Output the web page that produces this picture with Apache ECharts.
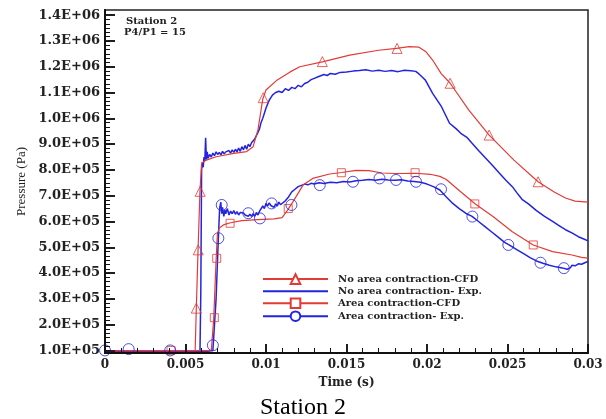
<!DOCTYPE html>
<html><head><meta charset="utf-8">
<script src="https://cdn.jsdelivr.net/npm/echarts@6/dist/echarts.min.js"></script>
<style>html,body{margin:0;padding:0;background:#fff}#wrap{position:relative;width:606px;height:419px}#c,#t{position:absolute;left:0;top:0;width:606px;height:419px}#t{pointer-events:none}</style>
</head><body><div id="wrap"><div id="c"></div><div id="t"></div></div>
<script>
// ---------- DATA (time in s, pressure in Pa) ----------
const seriesNames = ['No area contraction-CFD', 'No area contraction- Exp.', 'Area contraction-CFD', 'Area contraction- Exp.'];

const xTickLabels = ['0', '0.005', '0.01', '0.015', '0.02', '0.025', '0.03'];
const yTickValues = [1e5, 2e5, 3e5, 4e5, 5e5, 6e5, 7e5, 8e5, 9e5, 1e6, 1.1e6, 1.2e6, 1.3e6, 1.4e6];
const yTickLabels = ['1.0E+05', '2.0E+05', '3.0E+05', '4.0E+05', '5.0E+05', '6.0E+05', '7.0E+05', '8.0E+05', '9.0E+05', '1.0E+06', '1.1E+06', '1.2E+06', '1.3E+06', '1.4E+06'];

const noAreaCFD = [
  [0, 0.99e5], [0.0056, 0.99e5], [0.00567, 2.6e5], [0.00578, 4.9e5], [0.0059, 7.2e5], [0.006, 8.26e5],
  [0.0063, 8.38e5], [0.0069, 8.51e5], [0.008, 8.64e5], [0.0088, 8.71e5], [0.0092, 8.9e5], [0.0095, 9.55e5],
  [0.0098, 1.075e6], [0.01, 1.11e6], [0.0107, 1.149e6], [0.0115, 1.18e6], [0.0121, 1.2e6], [0.0135, 1.219e6],
  [0.0152, 1.245e6], [0.017, 1.264e6], [0.0181, 1.271e6], [0.0189, 1.278e6], [0.0195, 1.276e6], [0.01994, 1.258e6],
  [0.02035, 1.226e6], [0.02087, 1.174e6], [0.02144, 1.136e6], [0.0226, 1.032e6], [0.02386, 0.935e6], [0.0254, 0.838e6],
  [0.0269, 0.754e6], [0.0279, 0.714e6], [0.0286, 0.691e6], [0.0292, 0.679e6], [0.03, 0.675e6]
];
const noAreaExp = [
  [0, 0.97e5], [0.0003, 0.96e5], [0.0006, 0.98e5], [0.0009, 0.95e5], [0.0012, 0.97e5], [0.0015, 0.98e5], [0.0018, 0.96e5],
  [0.0021, 0.97e5], [0.0024, 0.95e5], [0.0027, 0.98e5], [0.003, 0.96e5], [0.0033, 0.97e5], [0.0036, 0.95e5], [0.0039, 0.98e5],
  [0.0042, 0.96e5], [0.0045, 0.97e5], [0.0048, 0.95e5], [0.0051, 0.97e5], [0.0054, 0.96e5], [0.0057, 0.97e5], [0.0059, 0.97e5],
  [0.00595, 3.2e5], [0.006, 8.0e5], [0.00605, 8.3e5], [0.0061, 8.1e5], [0.00615, 8.5e5], [0.0062, 8.35e5], [0.00625, 9.25e5],
  [0.0063, 8.4e5], [0.00635, 8.7e5], [0.0064, 8.45e5], [0.0065, 8.6e5], [0.0066, 8.5e5], [0.0067, 8.65e5], [0.0068, 8.55e5],
  [0.0069, 8.7e5], [0.007, 8.6e5], [0.0071, 8.68e5], [0.0072, 8.58e5], [0.0073, 8.72e5], [0.0074, 8.62e5], [0.0075, 8.7e5],
  [0.0076, 8.63e5], [0.0077, 8.75e5], [0.0078, 8.65e5], [0.0079, 8.78e5], [0.008, 8.68e5], [0.0081, 8.8e5], [0.0082, 8.7e5],
  [0.0083, 8.85e5], [0.0084, 8.72e5], [0.0085, 8.9e5], [0.0086, 8.78e5], [0.0087, 8.95e5], [0.0088, 8.8e5], [0.0089, 9.0e5],
  [0.009, 8.9e5], [0.0091, 9.05e5], [0.0092, 9.0e5], [0.0093, 9.2e5], [0.0094, 9.15e5], [0.0095, 9.45e5], [0.0096, 9.6e5],
  [0.0097, 9.85e5], [0.0098, 1.0e6], [0.0099, 1.02e6], [0.01, 1.04e6], [0.0101, 1.055e6], [0.0102, 1.07e6], [0.0103, 1.08e6],
  [0.0104, 1.09e6], [0.0105, 1.085e6], [0.0106, 1.1e6], [0.0107, 1.095e6], [0.0108, 1.105e6], [0.011, 1.1e6], [0.0112, 1.115e6],
  [0.0114, 1.108e6], [0.0116, 1.12e6], [0.0118, 1.115e6], [0.012, 1.128e6], [0.0122, 1.122e6], [0.0124, 1.135e6], [0.0126, 1.14e6],
  [0.0128, 1.15e6], [0.013, 1.155e6], [0.0132, 1.16e6], [0.0134, 1.165e6], [0.0136, 1.17e6], [0.0138, 1.166e6], [0.014, 1.174e6],
  [0.0143, 1.171e6], [0.0146, 1.178e6], [0.015, 1.18e6], [0.0154, 1.183e6], [0.0158, 1.185e6], [0.0162, 1.188e6], [0.0166, 1.183e6],
  [0.017, 1.186e6], [0.0174, 1.182e6], [0.0178, 1.185e6], [0.0182, 1.181e6], [0.0186, 1.186e6], [0.019, 1.184e6], [0.0193, 1.182e6],
  [0.0195, 1.172e6], [0.0197, 1.16e6], [0.0199, 1.148e6], [0.02035, 1.097e6], [0.0209, 1.045e6], [0.0214, 0.981e6], [0.0218, 0.96e6],
  [0.0221, 0.942e6], [0.0225, 0.925e6], [0.0228, 0.903e6], [0.0232, 0.875e6], [0.02365, 0.845e6], [0.0241, 0.815e6], [0.0245, 0.787e6],
  [0.0249, 0.76e6], [0.0253, 0.735e6], [0.0256, 0.71e6], [0.0259, 0.686e6], [0.0263, 0.668e6], [0.0268, 0.642e6], [0.0273, 0.62e6],
  [0.0278, 0.6e6], [0.0282, 0.584e6], [0.0286, 0.568e6], [0.029, 0.556e6], [0.0294, 0.541e6], [0.0297, 0.533e6], [0.03, 0.525e6]
];
const areaCFD = [
  [0, 0.99e5], [0.0066, 0.99e5], [0.00675, 2.2e5], [0.0069, 4.5e5], [0.00698, 5.5e5], [0.0071, 5.75e5], [0.0074, 5.88e5],
  [0.0078, 5.95e5], [0.0085, 6.03e5], [0.0095, 6.07e5], [0.0105, 6.1e5], [0.011, 6.15e5], [0.01135, 6.45e5], [0.01168, 6.77e5],
  [0.0123, 7.41e5], [0.0129, 7.67e5], [0.01395, 7.84e5], [0.0147, 7.9e5], [0.0156, 7.98e5], [0.0164, 7.97e5], [0.0172, 7.88e5],
  [0.018, 7.86e5], [0.0193, 7.87e5], [0.0202, 7.83e5], [0.0208, 7.75e5], [0.0212, 7.63e5], [0.022, 7.2e5], [0.023, 6.68e5],
  [0.0241, 6.19e5], [0.0253, 5.6e5], [0.0266, 5.09e5], [0.0278, 4.83e5], [0.029, 4.7e5], [0.0296, 4.61e5], [0.03, 4.58e5]
];
const areaExp = [
  [0, 0.97e5], [0.0004, 0.96e5], [0.0008, 0.98e5], [0.0012, 0.96e5], [0.0016, 0.97e5], [0.002, 0.95e5], [0.0024, 0.97e5],
  [0.0028, 0.96e5], [0.0032, 0.98e5], [0.0036, 0.96e5], [0.004, 0.97e5], [0.0044, 0.95e5], [0.0048, 0.97e5], [0.0052, 0.96e5],
  [0.0056, 0.97e5], [0.006, 0.96e5], [0.0064, 0.97e5], [0.0067, 1.0e5], [0.0069, 3.0e5], [0.00704, 5.35e5], [0.00712, 6.5e5],
  [0.00719, 6.75e5], [0.00725, 6.3e5], [0.0073, 6.55e5], [0.00738, 6.2e5], [0.00745, 6.45e5], [0.0075, 6.3e5], [0.0076, 6.5e5],
  [0.0077, 6.25e5], [0.0078, 6.4e5], [0.0079, 6.3e5], [0.008, 6.42e5], [0.0081, 6.28e5], [0.0082, 6.38e5], [0.0083, 6.25e5],
  [0.0084, 6.35e5], [0.0085, 6.28e5], [0.0086, 6.33e5], [0.0087, 6.25e5], [0.0088, 6.3e5], [0.0089, 6.2e5], [0.009, 6.28e5],
  [0.0091, 6.2e5], [0.0092, 6.3e5], [0.0093, 6.2e5], [0.0094, 6.35e5], [0.0095, 6.25e5], [0.0096, 6.4e5], [0.0097, 6.45e5],
  [0.0098, 6.6e5], [0.0099, 6.5e5], [0.01, 6.7e5], [0.0101, 6.6e5], [0.0102, 6.72e5], [0.0103, 6.62e5], [0.0104, 6.65e5],
  [0.0105, 6.55e5], [0.0106, 6.68e5], [0.0107, 6.6e5], [0.0108, 6.75e5], [0.0109, 6.65e5], [0.011, 6.7e5], [0.0112, 6.8e5],
  [0.0114, 6.95e5], [0.0116, 7.15e5], [0.0118, 7.25e5], [0.012, 7.35e5], [0.0122, 7.4e5], [0.0124, 7.45e5], [0.0126, 7.42e5],
  [0.0128, 7.48e5], [0.013, 7.45e5], [0.0133, 7.5e5], [0.0136, 7.47e5], [0.014, 7.52e5], [0.0144, 7.5e5], [0.0148, 7.55e5],
  [0.0152, 7.53e5], [0.0156, 7.58e5], [0.016, 7.6e5], [0.0164, 7.63e5], [0.0168, 7.6e5], [0.0172, 7.64e5], [0.0176, 7.61e5],
  [0.018, 7.6e5], [0.0184, 7.62e5], [0.0188, 7.57e5], [0.0192, 7.55e5], [0.0196, 7.52e5], [0.02, 7.45e5], [0.0204, 7.35e5],
  [0.0208, 7.22e5], [0.0212, 6.95e5], [0.0216, 6.7e5], [0.022, 6.5e5], [0.0224, 6.32e5], [0.0228, 6.2e5], [0.0232, 6.0e5],
  [0.0236, 5.8e5], [0.024, 5.6e5], [0.0244, 5.4e5], [0.0248, 5.2e5], [0.0252, 5.05e5], [0.0256, 4.9e5], [0.026, 4.75e5],
  [0.0264, 4.6e5], [0.0268, 4.47e5], [0.0272, 4.38e5], [0.0276, 4.3e5], [0.028, 4.24e5], [0.0284, 4.2e5], [0.0287, 4.15e5],
  [0.0289, 4.2e5], [0.029, 4.3e5], [0.0292, 4.28e5], [0.0294, 4.36e5], [0.0296, 4.34e5], [0.0298, 4.4e5], [0.03, 4.45e5]
];

// marker positions
const triMarkers = [[0.00567, 2.64e5], [0.00579, 4.9e5], [0.00591, 7.17e5], [0.00983, 1.08e6], [0.0135, 1.22e6],
  [0.01814, 1.271e6], [0.02144, 1.136e6], [0.02386, 0.935e6], [0.0269, 0.754e6]];
const squareMarkers = [[0.0041, 1.0e5], [0.00679, 2.27e5], [0.00694, 4.57e5], [0.00777, 5.93e5], [0.01138, 6.5e5],
  [0.01468, 7.89e5], [0.01926, 7.89e5], [0.02297, 6.68e5], [0.0266, 5.09e5]];
const circleMarkers = [[0, 1.0e5], [0.00147, 1.05e5], [0.00405, 1.0e5], [0.0067, 1.2e5], [0.00704, 5.35e5], [0.00725, 6.64e5],
  [0.0089, 6.32e5], [0.00962, 6.12e5], [0.01035, 6.7e5], [0.01158, 6.64e5], [0.01334, 7.41e5], [0.0154, 7.54e5],
  [0.01705, 7.67e5], [0.01808, 7.61e5], [0.01932, 7.54e5], [0.02087, 7.25e5], [0.02282, 6.19e5], [0.02505, 5.09e5],
  [0.02705, 4.4e5], [0.0285, 4.19e5]];

// ---------- STYLE ----------
const RED = '#e23b36';
const BLUE = '#2424e0';
const TICK = '#111';
const FONT = "'DejaVu Serif', serif";
const GRID = { left: 105, right: 18, top: 10, bottom: 66 };
const Y_MIN = 90000, Y_MAX = 1420000;
const yMinorTicks = [];
for (let k = 0; k <= 80; k++) { const v = 1e5 * (0.5 + k / 6); if (v >= Y_MIN && v <= Y_MAX) yMinorTicks.push(v); }

// ---------- main chart: data, labels, legend ----------
const chart = echarts.init(document.getElementById('c'), null, { renderer: 'canvas' });
const markerSeries = (data, symbol, size, color) => ({
  type: 'scatter', name: '_m_' + symbol, data, symbol, symbolSize: size, z: 5, silent: true,
  itemStyle: { color: 'rgba(255,255,255,0)', borderColor: color, borderWidth: 1 }
});
chart.setOption({
  animation: false,
  backgroundColor: '#fff',
  grid: Object.assign({ show: true, borderColor: '#222', borderWidth: 1.5, backgroundColor: 'transparent' }, GRID),
  legend: {
    data: [
      { name: seriesNames[0] },
      { name: seriesNames[1], itemStyle: { opacity: 0 } },
      { name: seriesNames[2] },
      { name: seriesNames[3] }
    ],
    orient: 'vertical', left: 257, top: 268.3, padding: 5,
    itemWidth: 65, itemHeight: 12, itemGap: 1.3,
    textStyle: { fontFamily: FONT, fontWeight: 'bold', fontSize: 10, color: '#222', padding: [0, 0, 0, 5] }
  },
  xAxis: {
    type: 'value', min: 0, max: 0.03, interval: 0.005,
    axisLine: { show: true, lineStyle: { color: TICK, width: 2 } },
    axisTick: { show: true, inside: true, length: 9, lineStyle: { color: TICK, width: 1.5 } },
    minorTick: { show: true, splitNumber: 5, length: 5, lineStyle: { color: TICK, width: 1 } },
    splitLine: { show: false },
    axisLabel: { formatter: v => xTickLabels[Math.round(v / 0.005)], fontFamily: FONT, fontWeight: 'bold', fontSize: 12, color: '#222', margin: 6 },
    name: 'Time (s)', nameLocation: 'middle', nameGap: 24,
    nameTextStyle: { fontFamily: FONT, fontWeight: 'bold', fontSize: 12, color: '#222' }
  },
  yAxis: {
    type: 'value', min: Y_MIN, max: Y_MAX, position: 'left',
    axisLine: { show: true, lineStyle: { color: TICK, width: 2 } },
    axisTick: { show: true, inside: true, length: 10, customValues: yTickValues, lineStyle: { color: TICK, width: 1.5 } },
    splitLine: { show: false },
    axisLabel: {
      customValues: yTickValues,
      formatter: v => { const i = yTickValues.findIndex(t => Math.abs(t - v) < 1); return i >= 0 ? yTickLabels[i] : ''; },
      fontFamily: FONT, fontWeight: 'bold', fontSize: 13, color: '#222', margin: 5
    },
    name: 'Pressure (Pa)', nameLocation: 'middle', nameGap: 72, nameRotate: 90,
    nameTextStyle: { fontFamily: "'Liberation Serif', serif", fontSize: 13, color: '#222' }
  },
  series: [
    { name: seriesNames[0], type: 'line', data: noAreaCFD, symbol: 'emptyTriangle', showSymbol: false, z: 3,
      lineStyle: { color: RED, width: 1.2 }, itemStyle: { color: RED } },
    { name: seriesNames[1], type: 'line', data: noAreaExp, symbol: 'none', showSymbol: false, z: 2,
      lineStyle: { color: BLUE, width: 1.5 }, itemStyle: { color: BLUE } },
    { name: seriesNames[2], type: 'line', data: areaCFD, symbol: 'emptyRect', showSymbol: false, z: 3,
      lineStyle: { color: RED, width: 1.2 }, itemStyle: { color: RED } },
    { name: seriesNames[3], type: 'line', data: areaExp, symbol: 'emptyCircle', showSymbol: false, z: 2,
      lineStyle: { color: BLUE, width: 1.5 }, itemStyle: { color: BLUE } },
    markerSeries(triMarkers, 'triangle', 10, RED),
    markerSeries(squareMarkers, 'rect', 8, RED),
    markerSeries(circleMarkers, 'circle', 11, BLUE)
  ],
  graphic: [
    { type: 'text', left: 126, top: 16, style: { text: 'Station 2', font: "bold 10px 'DejaVu Serif', serif", fill: '#222' } },
    { type: 'text', left: 124, top: 27, style: { text: 'P4/P1 = 15', font: "bold 10px 'DejaVu Serif', serif", fill: '#222' } },
    { type: 'text', left: 260, top: 396, style: { text: 'Station 2', font: "24px 'Liberation Serif', serif", fill: '#000' } }
  ]
});

// ---------- overlay chart: same grid and scales, draws axis lines + major/minor ticks only ----------
const ticks = echarts.init(document.getElementById('t'), null, { renderer: 'canvas' });
ticks.setOption({
  animation: false,
  backgroundColor: 'transparent',
  grid: GRID,
  xAxis: {
    type: 'value', min: 0, max: 0.03, interval: 0.005,
    axisLine: { show: true, lineStyle: { color: TICK, width: 2 } },
    axisTick: { show: true, inside: true, length: 9, lineStyle: { color: TICK, width: 1.5 } },
    minorTick: { show: true, splitNumber: 5, length: 5, lineStyle: { color: TICK, width: 1 } },
    splitLine: { show: false }, axisLabel: { show: false }
  },
  yAxis: [{
    type: 'value', min: Y_MIN, max: Y_MAX, position: 'left',
    axisLine: { show: true, lineStyle: { color: TICK, width: 2 } },
    axisTick: { show: true, inside: true, length: 10, customValues: yTickValues, lineStyle: { color: TICK, width: 1.5 } },
    axisLabel: { show: false }, splitLine: { show: false }
  }, {
    type: 'value', min: Y_MIN, max: Y_MAX, position: 'left',
    axisLine: { show: false },
    axisTick: { show: true, inside: true, length: 5, customValues: yMinorTicks, lineStyle: { color: TICK, width: 1 } },
    axisLabel: { show: false }, splitLine: { show: false }
  }],
  series: [{ type: 'line', data: [], silent: true }]
});
</script>
</body></html>
